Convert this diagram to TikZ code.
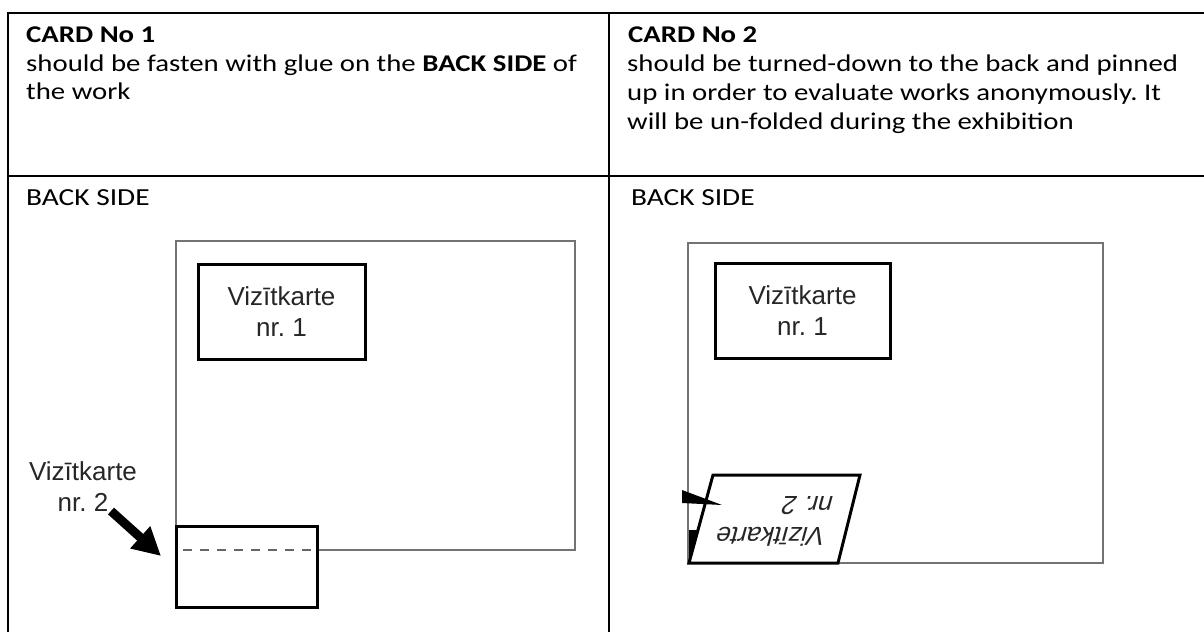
\documentclass[tikz,border=0pt]{standalone}
\usepackage{fontspec}
\setmainfont{Carlito}[FakeStretch=1.2]
\newfontfamily\arialfont{Liberation Sans}
\usetikzlibrary{arrows.meta}
\frenchspacing
\tikzset{
  grid/.style={line width=2.4pt,black},
  frame/.style={line width=1.8pt,draw=black!55},
  card/.style={line width=3pt,draw=black,fill=white},
  viz/.style={font=\arialfont\fontsize{26}{31}\selectfont,text=black!85,align=center,inner sep=0pt},
  cell/.style={anchor=base west,inner sep=0pt,font=\fontsize{24}{29}\selectfont},
  side/.style={cell,font=\fontsize{24.5}{29}\selectfont},
}
\begin{document}
\begin{tikzpicture}[x=1pt,y=-1pt]
\useasboundingbox (0,0) rectangle (1204,632);
% table
\draw[grid] (1204,13) -- (8,13) -- (8,632);
\draw[grid] (8,176) -- (1204,176);
\draw[grid] (609,13) -- (609,632);
\node[cell] (head1) at (26,42) {\textbf{CARD No 1}};
\node[cell] (txt1a) at (26,71) {should be fasten with glue on the \textbf{BACK SIDE} of};
\node[cell] (txt1b) at (26,99) {the work};
\node[cell] (head2) at (628,42) {\textbf{CARD No 2}};
\node[cell] (txt2a) at (627,71) {should be turned-down to the back and pinned};
\node[cell] (txt2b) at (627,100) {up in order to evaluate works anonymously. It};
\node[cell] (txt2c) at (627,129) {will be un-folded during the exhibition};
\node[side] (back1) at (26,205) {BACK SIDE};
\node[side] (back2) at (631,205) {BACK SIDE};
% left: card glued
\draw[frame] (176,241) rectangle (575,550);
\node[card,viz,minimum width=167pt,minimum height=95pt] (viz1) at (281.5,311.5) {Vizītkarte\\nr. 1};
\draw[card] (176,526) rectangle (317,607);
\draw[black!60,line width=1.8pt,dash pattern=on 9pt off 8pt] (183,550) -- (317,550);
\node[viz] (lbl2) at (83,487) {Vizītkarte\\nr. 2};
\coordinate (arrtail) at (111,511);
\coordinate (arrtip) at (161,556);
\draw[line width=9pt,-{Triangle[length=28pt,width=28pt]}] (arrtail) -- (arrtip);
% right: card turned down
\draw[frame] (688,243) rectangle (1103,563);
\node[card,viz,minimum width=175pt,minimum height=95pt] (viz2) at (802.5,310.5) {Vizītkarte\\nr. 1};
\draw[card] (713,475) -- (860,475) -- (838,563) -- (689,563) -- cycle;
\fill (689,530) -- (698,530) -- (689,563) -- cycle;
\fill (682,490) -- (682,503) -- (722,505) -- cycle;
\node[viz,align=left,rotate=180,xslant=0.27] (flip2) at (774,521) {Vizītkarte\\nr. 2};
\end{tikzpicture}
\end{document}
